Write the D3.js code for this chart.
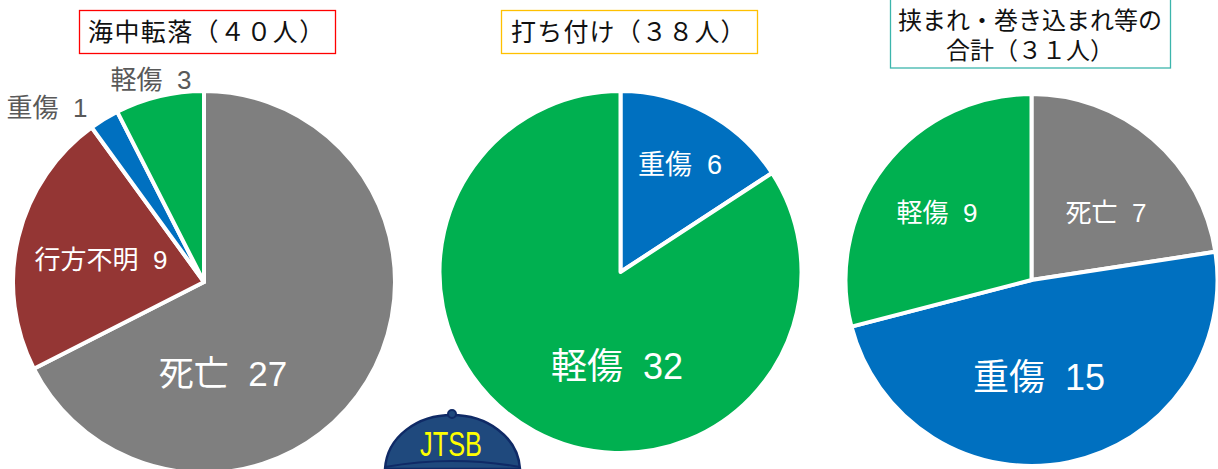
<!DOCTYPE html>
<html>
<head>
<meta charset="utf-8">
<script src="https://cdn.jsdelivr.net/npm/d3@7"></script>
<style>
  html, body { margin: 0; padding: 0; background: #fff; overflow: hidden; }
  text { font-family: "Liberation Sans", "Noto Sans CJK JP", sans-serif; white-space: pre; }
</style>
</head>
<body>
<div id="chart"></div>
<script>
// values
const fallCategories = ["死亡", "行方不明", "重傷", "軽傷"];
const fallValues = [27, 9, 1, 3];
const hitCategories = ["重傷", "軽傷"];
const hitValues = [6, 32];
const caughtCategories = ["死亡", "重傷", "軽傷"];
const caughtValues = [7, 15, 9];

const colors = d3.scaleOrdinal()
    .domain(["死亡", "行方不明", "重傷", "軽傷"])
    .range(["#7f7f7f", "#943634", "#0070c0", "#00b050"]);

const svg = d3.select("#chart").append("svg")
    .attr("width", 1218)
    .attr("height", 469);

// layout of each pie, labels: [x, y, font size, colour]
const pies = [
    { cats: fallCategories, vals: fallValues, cx: 204, cy: 282, r: 191,
      labels: [[223, 373, 35, "#fff"], [101, 260, 26, "#fff"], [47, 108, 26, "#595959"], [151, 80, 26, "#595959"]] },
    { cats: hitCategories, vals: hitValues, cx: 620.5, cy: 272, r: 181,
      labels: [[680, 164, 27, "#fff"], [617, 366, 36, "#fff"]] },
    { cats: caughtCategories, vals: caughtValues, cx: 1031.5, cy: 280, r: 186,
      labels: [[1106, 213, 26, "#fff"], [1039, 377, 36, "#fff"], [937, 213, 26, "#fff"]] }
];

pies.forEach(p => {
    const g = svg.append("g").attr("transform", "translate(" + p.cx + "," + p.cy + ")");
    const arcs = d3.pie().sort(null)(p.vals);
    const arc = d3.arc().innerRadius(0).outerRadius(p.r);

    g.selectAll("path")
        .data(arcs)
        .enter()
        .append("path")
        .attr("d", arc)
        .attr("fill", (d, i) => colors(p.cats[i]))
        .attr("stroke", "#fff")
        .attr("stroke-width", 4)
        .attr("stroke-linejoin", "round");

    svg.selectAll(null)
        .data(p.labels)
        .enter()
        .append("text")
        .attr("x", d => d[0])
        .attr("y", d => d[1])
        .attr("dy", "0.36em")
        .attr("text-anchor", "middle")
        .attr("font-size", d => d[2])
        .attr("fill", d => d[3])
        .text((d, i) => p.cats[i] + "  " + p.vals[i]);
});

// title boxes
const titles = [
    { x: 79.5, y: 10.5, w: 256, h: 43, stroke: "#ff0000", lines: ["海中転落（４０人）"], size: 25, gap: 1.4, tx: 88, anchor: "start", ty: [32] },
    { x: 501.5, y: 10.5, w: 256, h: 43, stroke: "#ffc000", lines: ["打ち付け（３８人）"], size: 25, gap: 1.2, tx: 511, anchor: "start", ty: [32] },
    { x: 890.5, y: -4, w: 280, h: 72, stroke: "#3cb5ac", lines: ["挟まれ・巻き込まれ等の", "合計（３１人）"], size: 24, gap: 0, tx: 1030, anchor: "middle", ty: [20, 50] }
];

titles.forEach(t => {
    svg.append("rect")
        .attr("x", t.x).attr("y", t.y)
        .attr("width", t.w).attr("height", t.h)
        .attr("fill", "#fff")
        .attr("stroke", t.stroke)
        .attr("stroke-width", 1.3);
    t.lines.forEach((s, i) => {
        svg.append("text")
            .attr("x", t.tx)
            .attr("y", t.ty[i])
            .attr("dy", "0.36em")
            .attr("text-anchor", t.anchor)
            .attr("font-size", t.size)
            .attr("letter-spacing", t.gap)
            .attr("fill", "#111")
            .text(s);
    });
});

// JTSB cap at the bottom
const cap = svg.append("g");
cap.append("path")
    .attr("d", "M385,469 C387,436 418,415 452,415 C486,415 518,436 520,469 Z")
    .attr("fill", "#1f497d")
    .attr("stroke", "#0f2a66")
    .attr("stroke-width", 2.5);
cap.append("circle")
    .attr("cx", 452).attr("cy", 414).attr("r", 4)
    .attr("fill", "#1f497d")
    .attr("stroke", "#0f2a66")
    .attr("stroke-width", 2);
cap.append("path")
    .attr("d", "M385,467 Q452,455 520,467")
    .attr("fill", "none")
    .attr("stroke", "#0f2a66")
    .attr("stroke-width", 2);
cap.append("text")
    .attr("x", 451).attr("y", 443)
    .attr("dy", "0.36em")
    .attr("text-anchor", "middle")
    .attr("font-size", 35)
    .attr("textLength", 62)
    .attr("lengthAdjust", "spacingAndGlyphs")
    .attr("fill", "#ffff00")
    .text("JTSB");
</script>
</body>
</html>
